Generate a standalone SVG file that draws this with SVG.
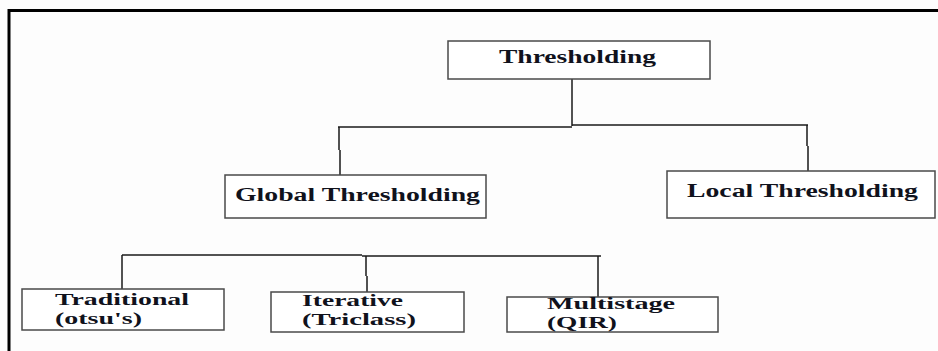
<svg xmlns="http://www.w3.org/2000/svg" width="938" height="351" viewBox="0 0 938 351">
  <style>
    .box { fill: #ffffff; stroke: #4a4a4a; stroke-width: 1.5; }
    .wire { fill: none; stroke: #1a1a1a; stroke-width: 1.5; }
    .frame { fill: none; stroke: #000000; stroke-width: 3; }
    .lbl { font-family: "Liberation Serif", "Times New Roman", serif; font-weight: bold; fill: #10121c; }
    .big { font-size: 18px; }
    .small { font-size: 16px; }
  </style>

  <rect width="938" height="351" fill="#fdfdfd"/>

  <!-- outer frame: top and left edges only -->
  <path class="frame" d="M9,351 V10.5 H938"/>

  <g id="connectors">
    <!-- root to first level -->
    <path class="wire" d="M572,79 V126"/>
    <path class="wire" d="M338,127 H572"/>
    <path class="wire" d="M572,125 H808"/>
    <path class="wire" d="M339,127 V150 M340,150 V175"/>
    <path class="wire" d="M807,125 V146 M808,146 V171"/>
    <!-- global thresholding to methods -->
    <path class="wire" d="M122,255 H362"/>
    <path class="wire" d="M362,256 H601"/>
    <path class="wire" d="M122,255 V289"/>
    <path class="wire" d="M366,256 V276 M367,276 V292"/>
    <path class="wire" d="M598,256 V297"/>
  </g>

  <g id="thresholding">
    <rect class="box" x="448" y="41" width="262" height="38"/>
    <text class="lbl big" x="499" y="63" textLength="157" lengthAdjust="spacingAndGlyphs">Thresholding</text>
  </g>

  <g id="global">
    <rect class="box" x="225" y="175" width="261" height="43"/>
    <text class="lbl big" x="235" y="201" textLength="245" lengthAdjust="spacingAndGlyphs">Global Thresholding</text>
  </g>

  <g id="local">
    <rect class="box" x="667" y="171" width="268" height="47"/>
    <text class="lbl big" x="687" y="197" textLength="231" lengthAdjust="spacingAndGlyphs">Local Thresholding</text>
  </g>

  <g id="traditional">
    <rect class="box" x="22" y="289" width="202" height="41"/>
    <text class="lbl small" x="55" y="305" textLength="134" lengthAdjust="spacingAndGlyphs">Traditional</text>
    <text class="lbl small" x="55" y="324" textLength="87" lengthAdjust="spacingAndGlyphs">(otsu's)</text>
  </g>

  <g id="iterative">
    <rect class="box" x="271" y="292" width="193" height="40"/>
    <text class="lbl small" x="302" y="306" textLength="101" lengthAdjust="spacingAndGlyphs">Iterative</text>
    <text class="lbl small" x="302" y="325" textLength="114" lengthAdjust="spacingAndGlyphs">(Triclass)</text>
  </g>

  <g id="multistage">
    <rect class="box" x="507" y="297" width="211" height="35"/>
    <text class="lbl small" x="547" y="309" textLength="128" lengthAdjust="spacingAndGlyphs">Multistage</text>
    <text class="lbl small" x="547" y="328" textLength="70" lengthAdjust="spacingAndGlyphs">(QIR)</text>
  </g>
</svg>
